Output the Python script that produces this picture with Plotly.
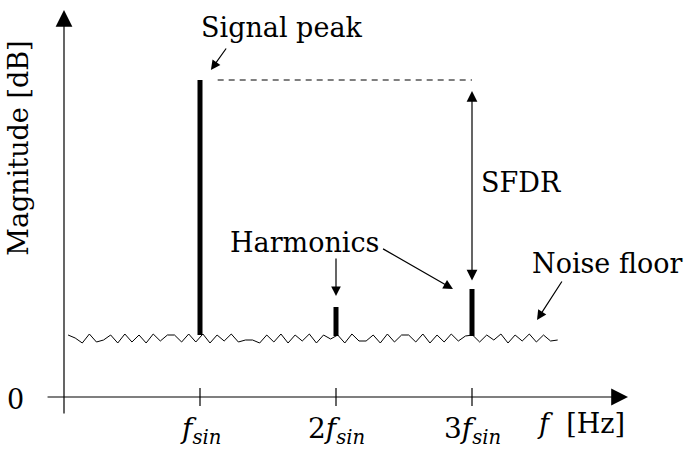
import numpy as np
import plotly.graph_objects as go

# ---------------- data ----------------
tick_pos = [1, 2, 3]
tick_labels = ["<i>f</i><sub><i>sin</i></sub>",
               "2<i>f</i><sub><i>sin</i></sub>",
               "3<i>f</i><sub><i>sin</i></sub>"]
peak_x = [1, 2, 3]
peak_top = [317, 90, 108]
peak_base = [62, 61, 61]
noise_vals = [62, 59, 54, 63, 55, 57, 62, 54, 63, 55, 62, 54, 63, 56, 62, 62, 55, 63, 55,
              63,
              54, 62, 56, 63, 55, 57, 57, 54, 62, 55, 63, 54, 62, 56, 63, 54, 62, 58,
              62,
              54, 63, 56, 56, 62, 54, 63, 55, 62, 62, 55, 63, 54, 62, 55, 63, 56, 61,
              62,
              55, 62, 57, 63, 54, 62, 56, 63, 55, 62, 56, 57]
noise_start, noise_end = 0.03, 3.63
noise_x = np.linspace(noise_start, noise_end, len(noise_vals))

FONT = "DejaVu Serif"
FS = 27

fig = go.Figure()

# noise floor
fig.add_trace(go.Scatter(x=noise_x, y=noise_vals, mode="lines",
                         line=dict(color="black", width=1), hoverinfo="skip"))

# spectral lines
for px, b, t in zip(peak_x, peak_base, peak_top):
    fig.add_trace(go.Scatter(x=[px, px], y=[b, t], mode="lines",
                             line=dict(color="black", width=5), hoverinfo="skip"))

# dashed reference line at the signal peak level
fig.add_trace(go.Scatter(x=[1.13, 3.0], y=[peak_top[0], peak_top[0]], mode="lines",
                         line=dict(color="black", width=1.2, dash="6px,5px"), hoverinfo="skip"))

# ticks on x axis
for tp in tick_pos:
    fig.add_trace(go.Scatter(x=[tp, tp], y=[-9, 9], mode="lines",
                             line=dict(color="black", width=1.2), hoverinfo="skip"))

ann = []

def arrow(x0, y0, x1, y1, size, width=1.0, head=2, side="end"):
    return dict(x=x1, y=y1, ax=x0, ay=y0, xref="x", yref="y", axref="x", ayref="y",
                text="", showarrow=True, arrowhead=head, arrowsize=size,
                arrowwidth=width, arrowcolor="black", arrowside=side,
                startarrowhead=head, startarrowsize=size, standoff=0, startstandoff=0)

# axes
ann.append(arrow(-0.132, 0, 4.147, 0, 2.8, 1.2))
ann.append(arrow(0, -18, 0, 387, 2.8, 1.2))

# pointer arrows
ann.append(arrow(1.2, 350, 1.08, 327, 1.6, 1.2))            # signal peak
ann.append(arrow(2.0, 140, 2.0, 101, 1.6, 1.2))             # harmonic 2
ann.append(arrow(2.335, 149, 2.86, 108, 1.6, 1.2))          # harmonic 3
ann.append(arrow(3.668, 117, 3.478, 77, 1.6, 1.2))          # noise floor
ann.append(arrow(3.0, 115, 3.0, 306, 1.8, 1.2, side="end+start"))  # SFDR

def label(x, y, text, angle=0, size=FS):
    return dict(x=x, y=y, xref="x", yref="y", text=text, showarrow=False,
                textangle=angle, font=dict(family=FONT, size=size, color="black"),
                xanchor="center", yanchor="middle")

ann.append(label(1.596, 370, "Signal peak"))
ann.append(label(1.772, 155, "Harmonics"))
ann.append(label(3.993, 134, "Noise floor"))
ann.append(label(3.36, 215, "SFDR"))
ann.append(label(-0.36, -2, "0"))
ann.append(label(3.80, -26, "<i>f</i>  [Hz]"))
ann.append(label(-0.34, 249, "Magnitude [dB]", angle=-90))
for tp, tl in zip(tick_pos, tick_labels):
    ann.append(label(tp, -33, tl, size=28))

fig.update_layout(
    width=684, height=452,
    margin=dict(l=0, r=0, t=0, b=0),
    paper_bgcolor="white", plot_bgcolor="white",
    showlegend=False,
    xaxis=dict(range=[-64 / 136, 620 / 136], visible=False, fixedrange=True),
    yaxis=dict(range=[-55, 397], visible=False, fixedrange=True),
    annotations=ann,
)

fig.write_html("out.html")
